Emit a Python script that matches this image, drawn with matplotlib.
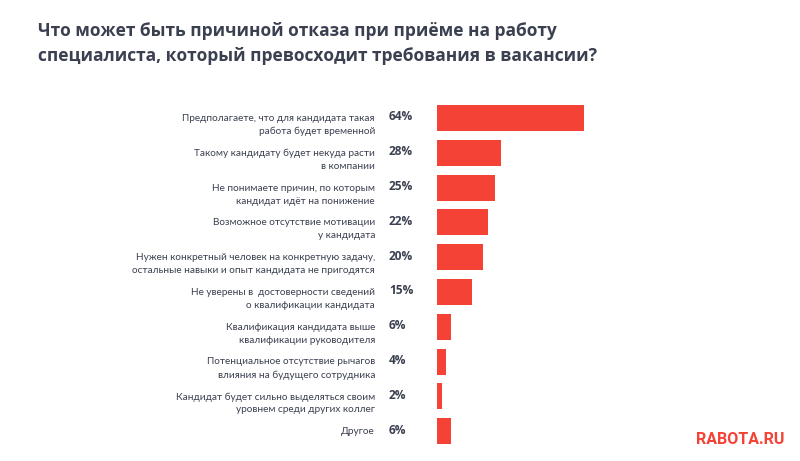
import matplotlib
matplotlib.use('Agg')
import matplotlib.pyplot as plt
from matplotlib import transforms

plt.rcParams['font.family'] = ['Open Sans', 'DejaVu Sans']

title = ('Что может быть причиной отказа при приёме на работу\n'
         'специалиста, который превосходит требования в вакансии?')

labels = [
    'Предполагаете, что для кандидата такая\nработа будет временной',
    'Такому кандидату будет некуда расти\nв компании',
    'Не понимаете причин, по которым\nкандидат идёт на понижение',
    'Возможное отсутствие мотивации\nу кандидата',
    'Нужен конкретный человек на конкретную задачу,\nостальные навыки и опыт кандидата не пригодятся',
    'Не уверены в  достоверности сведений\nо квалификации кандидата',
    'Квалификация кандидата выше\nквалификации руководителя',
    'Потенциальное отсутствие рычагов\nвлияния на будущего сотрудника',
    'Кандидат будет сильно выделяться своим\nуровнем среди других коллег',
    'Другое',
]
values = [64, 28, 25, 22, 20, 15, 6, 4, 2, 6]

red = '#f44336'
txt = '#3b4050'

W, H = 800, 461
fig = plt.figure(figsize=(W / 100, H / 100), dpi=100)

# bars start at x=437px, 2.3 px per percent
x0, ppu = 437, 2.3
row_top, row_bot = 100.6, 448.6
ax = fig.add_axes([x0 / W, 1 - row_bot / H, 100 * ppu / W, (row_bot - row_top) / H])
ax.set_xlim(0, 100)
ax.set_ylim(len(values) - 0.5, -0.5)
ax.axis('off')

ypos = list(range(len(values)))
ax.barh(ypos, values, height=0.75, color=red)

lab_x = (375 - x0) / ppu
pct_x = (389 - x0) / ppu
for y, lab, v in zip(ypos, labels, values):
    two = '\n' in lab
    off = transforms.offset_copy(ax.transData, fig=fig, x=0, y=-7 if two else 0, units='dots')
    ax.text(lab_x, y, lab, ha='right', va='center', fontsize=7.2, color=txt,
            linespacing=1.55, transform=off, family=['Lato', 'DejaVu Sans'])
    ax.text(pct_x, y - 0.03, f'{v}%', ha='left', va='center', fontsize=8.6,
            color=txt, fontweight='bold')

fig.text(38 / W, 1 - 43.5 / H, title, ha='left', va='center', fontsize=12.5,
         fontweight='bold', color=txt, linespacing=1.5)

fig.text(740 / W, 1 - 439 / H, 'RABOTA.RU', ha='center', va='center',
         fontsize=11.5, fontweight='bold', color=red, family=['Roboto', 'DejaVu Sans'])

fig.savefig('out.png', dpi=100)
